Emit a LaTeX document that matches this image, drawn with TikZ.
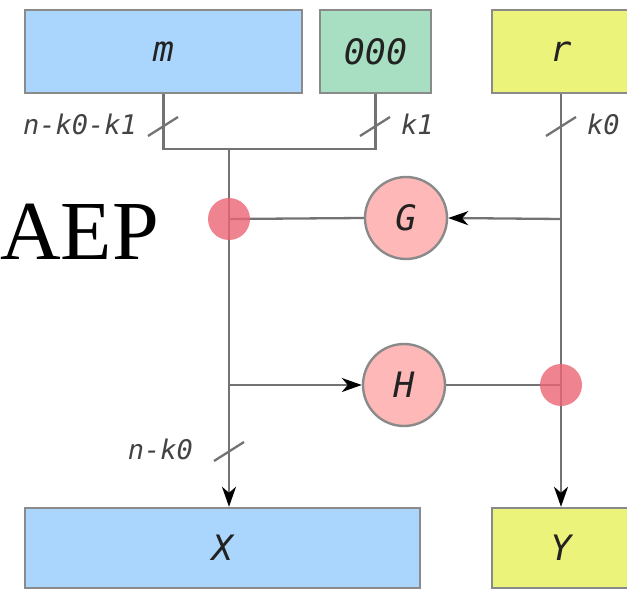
\documentclass[tikz,border=0pt]{standalone}
\usepackage{fontspec}
\newfontfamily\dmono{DejaVu Sans Mono}
\newfontfamily\aepfont{Liberation Serif}
\usetikzlibrary{arrows.meta,calc}
\definecolor{mblue}{RGB}{170,214,253}
\definecolor{zgreen}{RGB}{168,222,194}
\definecolor{ryellow}{RGB}{236,243,123}
\definecolor{fnpink}{RGB}{255,184,184}
\definecolor{xorred}{RGB}{236,100,116}
\definecolor{edgegray}{RGB}{138,138,138}
\definecolor{wiregray}{RGB}{115,115,115}
\definecolor{txt}{RGB}{34,34,34}
\pgfdeclarelayer{bg}
\pgfsetlayers{bg,main}
\tikzset{
  databox/.style={draw=edgegray, line width=2.4pt, inner sep=0pt, minimum height=83pt,
    text=txt, font=\dmono\itshape\fontsize{35}{40}\selectfont},
  fnnode/.style={circle, draw=edgegray, fill=fnpink, line width=2.4pt, minimum size=82pt,
    inner sep=0pt, text=txt, font=\dmono\itshape\fontsize{35}{40}\selectfont},
  xornode/.style={circle, fill=xorred, fill opacity=0.8, minimum size=42pt, inner sep=0pt},
  wire/.style={draw=wiregray, line width=2.3pt},
  arrowwire/.style={wire, -{Stealth[length=20pt,width=14pt,inset=6pt,color=black]}},
  slashmark/.style={draw=wiregray, line width=2.3pt},
  lbl/.style={text=txt!85!white, inner sep=0pt, font=\dmono\itshape\fontsize{27}{30}\selectfont}
}
\begin{document}
\begin{tikzpicture}[x=1pt,y=-1pt]
\useasboundingbox (0,0) rectangle (627,591);
\clip (0,0) rectangle (627,591);
% data boxes
\node[databox, fill=mblue, minimum width=277pt] (m) at (163.5,51.5) {m};
\node[databox, fill=zgreen, minimum width=111pt] (z) at (375.5,51.5) {000};
\node[databox, fill=ryellow, minimum width=138pt] (r) at (561,51.5) {r};
\node[databox, fill=mblue, minimum width=395pt, minimum height=80pt] (X) at (222.5,548) {X};
\node[databox, fill=ryellow, minimum width=138pt, minimum height=80pt] (Y) at (561,548) {Y};
% functions
\node[fnnode] (G) at (406,218) {G};
\node[fnnode] (H) at (404,385) {H};
% xors
\node[xornode] (xl) at (229,219) {};
\node[xornode] (xr) at (561,385) {};
% junction coordinates
\coordinate (j) at (229,149);
\coordinate (jm) at (m.south |- j);
\coordinate (jz) at (z.south |- j);
% wires
\begin{pgfonlayer}{bg}
\draw[wire] (m.south) -- (jm) -- (jz) -- (z.south);
\draw[arrowwire] (j) -- (xl.center) -- (X.north -| j);
\draw[wire] (xl.center) -- (G.west);
\draw[arrowwire] (r.south |- xl) -- (G.east);
\draw[arrowwire] (r.south) -- (xr.center) -- (Y.north);
\draw[arrowwire] (j |- H) -- (H.west);
\draw[wire] (H.east) -- (xr.center);
\end{pgfonlayer}
% slash marks
\draw[slashmark] (163,126) ++(-15,10) -- ++(30,-19);
\draw[slashmark] (375,126) ++(-15,10) -- ++(30,-19);
\draw[slashmark] (561,126) ++(-15,10) -- ++(30,-19);
\draw[slashmark] (229,451) ++(-15,10) -- ++(30,-19);
% labels
\node[lbl, anchor=east] (l1) at (137,124) {n-k0-k1};
\node[lbl, anchor=west] (l2) at (401,124) {k1};
\node[lbl, anchor=west] (l3) at (587,124) {k0};
\node[lbl, anchor=east] (l4) at (193,449) {n-k0};
% title
\node[anchor=base west, inner sep=0pt, font=\aepfont\fontsize{84}{90}\selectfont] (aep) at (0,259) {AEP};
\end{tikzpicture}
\end{document}
